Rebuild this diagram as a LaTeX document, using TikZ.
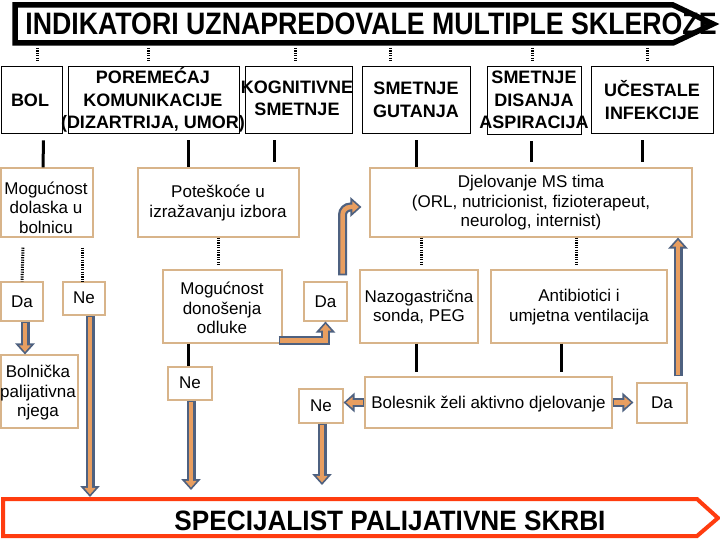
\documentclass[tikz,border=0pt]{standalone}
\usepackage{fontspec}
\setmainfont{Liberation Sans}
\usetikzlibrary{arrows.meta}
\definecolor{boxtan}{RGB}{216,180,138}
\definecolor{aline}{RGB}{78,97,128}
\definecolor{afill}{RGB}{232,158,96}
\definecolor{banred}{RGB}{255,60,15}
\begin{document}
\begin{tikzpicture}[x=1pt,y=-1pt,
  rowone/.style={draw=black, line width=0.8pt, inner sep=0pt},
  rowtwo/.style={draw=boxtan, line width=1.1pt, inner sep=0pt},
  btxt/.style={font=\fontsize{18}{22.5}\selectfont\bfseries, align=center, inner sep=0pt},
  rtxt/.style={font=\fontsize{17}{19.5}\selectfont, align=center, inner sep=0pt},
  blk/.style={line width=3pt},
  dots/.style={line width=3pt, dash pattern=on 1.2pt off 1.2pt},
  barrow/.style={draw=afill, line width=4.5pt, -{Triangle[length=6.5pt,width=11pt]},
     shorten >=2.6pt, shorten <=1.8pt,
     preaction={draw=aline, line width=9pt, -{Triangle[length=11pt,width=19pt]},
       shorten >=0pt, shorten <=0pt}}
]
\useasboundingbox (0,0) rectangle (720,540);
\fill[white] (0,0) rectangle (720,540);

% top banner
\draw[line width=5.5pt, line join=miter] (15,5) -- (673,5) -- (713,24) -- (673,43) -- (15,43) -- cycle;
\node[inner sep=0pt, font=\fontsize{31}{32}\selectfont\bfseries] (title) at (371,24)
  {\scalebox{0.862}[1]{INDIKATORI UZNAPREDOVALE MULTIPLE SKLEROZE}};
\coordinate (topB) at (0,48);

% bottom banner
\draw[banred, line width=4pt, line join=miter] (3,499) -- (697,499) -- (718,518) -- (697,536) -- (3,536) -- cycle;
\node[inner sep=0pt, font=\fontsize{28}{29}\selectfont\bfseries] (spec) at (390,521)
  {\scalebox{0.935}[1]{SPECIJALIST PALIJATIVNE SKRBI}};
\coordinate (end1) at (90,497);
\coordinate (end2) at (191,490);
\coordinate (end3) at (322,485);

% row 1 boxes
\node[rowone, minimum width=61pt, minimum height=67pt] (bol) at (31.5,99.5) {};
\node[rowone, minimum width=171pt, minimum height=67pt] (por) at (153.5,99.5) {};
\node[rowone, minimum width=107pt, minimum height=67pt] (kog) at (298.5,99.5) {};
\node[rowone, minimum width=108pt, minimum height=67pt] (gut) at (416,99.5) {};
\node[rowone, minimum width=94pt, minimum height=68pt] (dis) at (534,100) {};
\node[rowone, minimum width=122pt, minimum height=67pt] (uce) at (652,99.5) {};
\node[btxt] (bolt) at (30,100) {BOL};
\node[btxt] (port) at (153,100) {POREMEĆAJ\\KOMUNIKACIJE\\(DIZARTRIJA, UMOR)};
\node[btxt] (kogt) at (297,98.5) {KOGNITIVNE\\SMETNJE};
\node[btxt] (gutt) at (416,100) {SMETNJE\\GUTANJA};
\node[btxt] (dist) at (534,100) {SMETNJE\\DISANJA\\ASPIRACIJA};
\node[btxt] (ucet) at (652,100) {UČESTALE\\INFEKCIJE};

% row 2 boxes
\node[rowtwo, minimum width=92pt, minimum height=69pt] (mdol) at (47,202.5) {};
\node[rowtwo, minimum width=161pt, minimum height=69pt] (pot) at (218.5,202.5) {};
\node[rowtwo, minimum width=322pt, minimum height=69pt] (djel) at (531,202.5) {};
\node[rtxt] (mdolt) at (46,207.5) {Mogućnost\\dolaska u\\bolnicu};
\node[rtxt] (pott) at (218,203) {Poteškoće u\\izražavanju izbora};
\node[rtxt] (djelt) at (531,203) {Djelovanje MS tima\\(ORL, nutricionist, fizioterapeut,\\neurolog, internist)};

% row 3 boxes
\node[rowtwo, minimum width=42pt, minimum height=39pt] (da1) at (22,301.5) {};
\node[rowtwo, minimum width=42pt, minimum height=33pt] (ne1) at (84,298.5) {};
\node[rowtwo, minimum width=119pt, minimum height=73pt] (mdo) at (222.5,306.5) {};
\node[rowtwo, minimum width=43pt, minimum height=39pt] (da2) at (325.5,301.5) {};
\node[rowtwo, minimum width=118pt, minimum height=73pt] (naz) at (419,306.5) {};
\node[rowtwo, minimum width=176pt, minimum height=73pt] (ant) at (579,306.5) {};
\node[rtxt] (da1t) at (22,302) {Da};
\node[rtxt] (ne1t) at (84,298) {Ne};
\node[rtxt] (mdot) at (222,308) {Mogućnost\\donošenja\\odluke};
\node[rtxt] (da2t) at (325.5,302) {Da};
\node[rtxt] (nazt) at (419,307) {Nazogastrična\\sonda, PEG};
\node[rtxt] (antt) at (579,307) {Antibiotici i\\umjetna ventilacija};

% row 4 boxes
\node[rowtwo, minimum width=77pt, minimum height=73pt] (bpn) at (39.5,391.5) {};
\node[rowtwo, minimum width=44pt, minimum height=33pt] (ne2) at (190,383.5) {};
\node[rowtwo, minimum width=44pt, minimum height=34pt] (ne3) at (321,406) {};
\node[rowtwo, minimum width=247pt, minimum height=51pt] (bza) at (488.5,402.5) {};
\node[rowtwo, minimum width=50pt, minimum height=40pt] (dar) at (662,403) {};
\node[rtxt] (bpnt) at (38,393) {Bolnička\\palijativna\\njega};
\node[rtxt] (ne2t) at (190,383) {Ne};
\node[rtxt] (ne3t) at (321,406) {Ne};
\node[rtxt] (bzat) at (488.5,404) {Bolesnik želi aktivno djelovanje};
\node[rtxt] (dart) at (662,403) {Da};

% dotted connectors from the banner
\draw[dots] ([xshift=6pt]bol.north |- topB) -- ([xshift=6pt,yshift=5pt]bol.north);
\draw[dots] ([xshift=-5.5pt]por.north |- topB) -- ([xshift=-5.5pt,yshift=5pt]por.north);
\draw[dots] ([xshift=-3.5pt]kog.north |- topB) -- ([xshift=-3.5pt,yshift=5pt]kog.north);
\draw[dots] ([xshift=-26pt]gut.north |- topB) -- ([xshift=-26pt,yshift=5pt]gut.north);
\draw[dots] ([xshift=-2pt]dis.north |- topB) -- ([xshift=-2pt,yshift=5pt]dis.north);
\draw[dots] ([xshift=-5pt]uce.north |- topB) -- ([xshift=-5pt,yshift=5pt]uce.north);

% solid connectors row 1 -> row 2
\draw[blk] ([xshift=12pt,yshift=-7pt]bol.south) -- ([xshift=-4pt]mdol.north);
\draw[blk] ([xshift=34.5pt,yshift=-7pt]por.south) -- ([xshift=-30.5pt]pot.north);
\draw[blk] ([xshift=-24.5pt,yshift=-7pt]kog.south) -- ([xshift=55.5pt,yshift=5pt]pot.north);
\draw[blk] ([yshift=-7pt]gut.south) -- ([xshift=-115pt]djel.north);
\draw[blk] ([xshift=-3pt,yshift=-7pt]dis.south) -- ([yshift=5pt]djel.north);
\draw[blk] ([xshift=-10pt,yshift=-7pt]uce.south) -- ([xshift=111pt,yshift=5pt]djel.north);

% dotted row 2 -> row 3
\draw[dots] ([xshift=-24pt,yshift=-10pt]mdol.south) -- (da1.north);
\draw[dots] ([xshift=35pt,yshift=-10pt]mdol.south) -- ([xshift=-2pt]ne1.north);
\draw[dots] ([xshift=-0.5pt]pot.south) -- ([xshift=-4.5pt,yshift=5pt]mdo.north);
\draw[dots] ([xshift=-110pt]djel.south) -- ([xshift=2pt,yshift=5pt]naz.north);
\draw[dots] ([xshift=45pt]djel.south) -- ([xshift=-3pt,yshift=5pt]ant.north);

% solid row 3 -> row 4
\draw[blk] ([xshift=-34.5pt]mdo.south) -- ([xshift=-2pt]ne2.north);
\draw[blk] ([xshift=-3pt]naz.south) -- ([xshift=-72.5pt,yshift=4pt]bza.north);
\draw[blk] ([xshift=-18pt]ant.south) -- ([xshift=72.5pt,yshift=4pt]bza.north);

% block arrows
\draw[barrow] ([xshift=3pt]da1.south) -- ([xshift=3pt]da1.south |- bpn.north);
\draw[barrow] (ne1.south -| end1) -- (end1);
\draw[barrow] (ne2.south -| end2) -- (end2);
\draw[barrow] (ne3.south -| end3) -- (end3);
\draw[barrow] ([xshift=-4pt,yshift=3pt]mdo.south east) -| (da2.south);
\draw[barrow, rounded corners=8pt] ([xshift=17pt,yshift=6pt]da2.north) |- ([xshift=-8pt,yshift=-4.5pt]djel.west);
\draw[barrow] ([xshift=16pt,yshift=6pt]dar.north) -- ([xshift=16pt]dar.north |- djel.south);
\draw[barrow] (bza.west) -- (bza.west -| ne3.east);
\draw[barrow] (bza.east) -- ([xshift=-3pt]bza.east -| dar.west);
\end{tikzpicture}
\end{document}
